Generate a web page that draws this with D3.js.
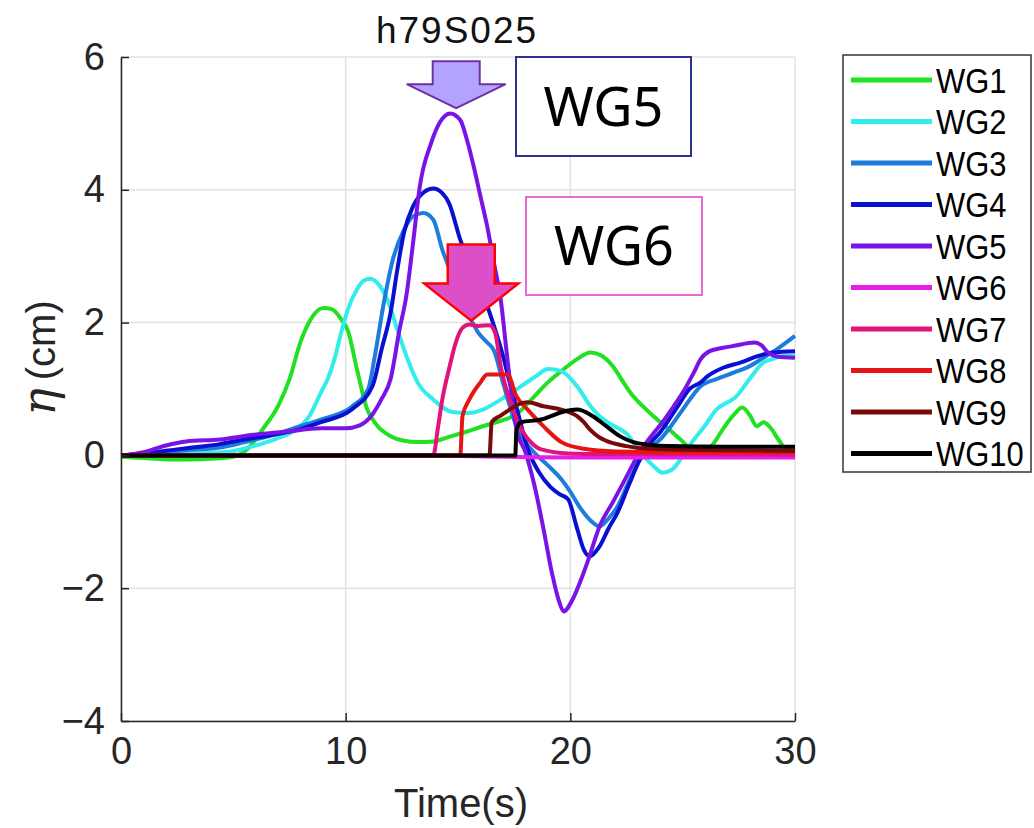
<!DOCTYPE html>
<html>
<head>
<meta charset="utf-8">
<script src="https://cdn.jsdelivr.net/npm/d3@7"></script>
<style>
  body { margin: 0; background: #fff; }
  .tick text { font-family: "Liberation Sans Narrow", "Liberation Sans", sans-serif; font-size: 38px; fill: #262626; }
  .legend text { font-family: "Liberation Sans Narrow", "Liberation Sans", sans-serif; font-size: 36px; fill: #000; }
</style>
</head>
<body>
<div id="chart"></div>
<script>
// wave gauge records, [time (s), eta (cm)]
var wg1 = [[0,-0.02],[1,-0.04],[2,-0.06],[3,-0.06],[4,-0.05],[5.0,-0.02],[5.5,0.06],[5.9,0.2],[6.3,0.39],[7.0,0.75],[7.5,1.15],[8.0,1.72],[8.5,2.08],[9.0,2.22],[9.4,2.2],[9.8,2.05],[10.1,1.88],[10.5,1.3],[10.95,0.7],[11.4,0.45],[12.0,0.29],[12.6,0.22],[13.2,0.2],[13.9,0.21],[14.6,0.28],[15.4,0.36],[16.2,0.45],[16.9,0.52],[17.6,0.62],[18.4,0.89],[19.0,1.1],[19.6,1.27],[20.3,1.45],[20.9,1.55],[21.4,1.5],[21.9,1.34],[22.4,1.08],[22.8,0.89],[23.2,0.75],[23.7,0.59],[24.3,0.42],[24.9,0.24],[25.4,0.1],[25.9,0.08],[26.3,0.15],[26.8,0.4],[27.3,0.62],[27.65,0.72],[28.0,0.6],[28.3,0.44],[28.6,0.5],[28.9,0.42],[29.3,0.22],[29.6,0.1],[30,0.07]];
var wg2 = [[0,0],[1,0.01],[2,0.02],[3,0.03],[4,0.04],[4.9,0.06],[5.9,0.14],[6.9,0.25],[7.8,0.39],[8.4,0.6],[8.9,0.95],[9.2,1.15],[9.5,1.45],[9.8,1.85],[10.1,2.2],[10.5,2.5],[10.8,2.63],[11.1,2.66],[11.4,2.6],[11.85,2.35],[12.3,1.9],[12.7,1.5],[13.2,1.1],[13.9,0.84],[14.8,0.65],[15.5,0.64],[16.1,0.69],[16.9,0.84],[17.8,1.04],[18.5,1.2],[19.0,1.3],[19.6,1.27],[20.3,1.04],[20.9,0.74],[21.3,0.59],[21.9,0.45],[22.5,0.33],[23.0,0.1],[23.7,-0.16],[24.1,-0.26],[24.5,-0.22],[24.8,-0.11],[25.1,0.05],[25.5,0.24],[26.0,0.45],[26.5,0.69],[27.0,0.8],[27.3,0.86],[28.0,1.16],[28.6,1.4],[29.0,1.45],[29.5,1.5],[30,1.5]];
var wg3 = [[0,0],[1,0.02],[2,0.05],[3,0.08],[4.4,0.12],[5.5,0.2],[6.6,0.29],[7.8,0.42],[8.9,0.54],[10.3,0.74],[11.0,1.0],[11.3,1.5],[11.7,2.3],[12.1,2.95],[12.6,3.4],[13.0,3.6],[13.45,3.65],[13.9,3.55],[14.3,3.1],[14.7,2.75],[15.1,2.45],[15.5,2.1],[15.9,1.85],[16.3,1.7],[16.6,1.58],[17.0,1.1],[17.3,0.75],[17.6,0.44],[18.0,0.2],[18.4,0.04],[19.0,-0.15],[19.6,-0.36],[20.0,-0.55],[20.4,-0.77],[20.9,-0.98],[21.3,-1.07],[21.7,-0.95],[22.1,-0.77],[22.6,-0.4],[23.1,-0.06],[23.5,0.1],[24.0,0.24],[24.5,0.45],[25.0,0.69],[25.4,0.88],[25.8,1.04],[26.5,1.15],[27.3,1.25],[27.9,1.33],[28.5,1.45],[29.2,1.6],[30,1.8]];
var wg4 = [[0,0],[1,0.03],[2,0.07],[3,0.11],[4.4,0.17],[5.5,0.24],[6.6,0.3],[7.8,0.38],[8.9,0.5],[10.3,0.7],[11.2,1.05],[11.6,1.6],[12.0,2.15],[12.3,2.8],[12.6,3.36],[13.0,3.75],[13.5,3.97],[13.9,4.02],[14.3,3.95],[14.6,3.8],[15.1,3.25],[15.5,2.9],[15.9,2.55],[16.3,2.25],[16.6,1.95],[17.0,1.5],[17.3,1.1],[17.7,0.6],[18.1,0.1],[18.6,-0.25],[19.1,-0.47],[19.5,-0.58],[19.9,-0.66],[20.3,-1.1],[20.6,-1.42],[20.85,-1.52],[21.3,-1.37],[21.7,-1.1],[22.1,-0.86],[22.6,-0.45],[23.1,-0.06],[23.6,0.2],[24.0,0.35],[24.8,0.75],[25.3,1.0],[25.8,1.1],[26.1,1.19],[26.8,1.32],[27.6,1.4],[28.3,1.49],[29.0,1.55],[30,1.57]];
var wg5 = [[0,0],[1,0.05],[2,0.15],[2.9,0.21],[4.4,0.24],[5.9,0.31],[7.4,0.36],[8.9,0.41],[10.0,0.41],[10.6,0.45],[11.2,0.62],[11.6,0.85],[12.0,1.15],[12.4,1.9],[12.7,2.4],[13.0,3.2],[13.3,4.05],[13.8,4.7],[14.2,5.02],[14.65,5.15],[15.1,5.05],[15.4,4.75],[15.7,4.35],[16.0,3.9],[16.3,3.45],[16.6,2.9],[16.9,2.35],[17.2,1.45],[17.6,0.4],[18.0,0.05],[18.4,-0.45],[18.8,-1.1],[19.2,-1.8],[19.5,-2.2],[19.7,-2.35],[20.1,-2.17],[20.5,-1.85],[20.8,-1.57],[21.3,-1.07],[21.9,-0.7],[22.5,-0.32],[23.0,0.0],[23.6,0.29],[24.1,0.5],[24.6,0.74],[25.1,1.0],[25.5,1.25],[25.8,1.45],[26.2,1.57],[26.8,1.62],[27.3,1.65],[28.2,1.7],[28.5,1.66],[28.8,1.55],[29.2,1.49],[30,1.47]];
var wg6 = [[0,0],[5,-0.01],[10,0],[15,-0.01],[20,-0.03],[25,-0.03],[30,-0.03]];
var wg7 = [[0,0],[5,0],[10,0],[13.9,0],[14.1,0.4],[14.3,0.84],[14.6,1.3],[14.9,1.7],[15.2,1.92],[15.5,1.97],[15.9,1.95],[16.4,1.96],[16.65,1.85],[16.9,1.34],[17.3,0.84],[17.9,0.35],[18.3,0.18],[18.7,0.09],[19.9,0.03],[22,0.02],[30,0.01]];
var wg8 = [[0,0],[5,0],[10,0],[15.1,0],[15.2,0.59],[15.5,0.84],[16.0,1.1],[16.3,1.22],[17.2,1.22],[17.6,0.89],[18.1,0.69],[18.8,0.44],[19.6,0.2],[20.6,0.1],[22,0.06],[25,0.05],[30,0.05]];
var wg9 = [[0,0],[5,0],[10,0],[16.4,0],[16.5,0.5],[16.9,0.6],[17.3,0.69],[17.7,0.77],[18.1,0.8],[18.8,0.74],[19.6,0.69],[20.3,0.59],[20.6,0.5],[20.9,0.38],[21.3,0.27],[21.6,0.22],[22.5,0.14],[23.5,0.1],[26,0.08],[30,0.07]];
var wg10 = [[0,0],[5,0],[10,0],[17.55,0],[17.6,0.39],[17.8,0.5],[18.7,0.54],[19.2,0.6],[19.6,0.65],[20.3,0.69],[21.0,0.59],[21.6,0.44],[22.2,0.29],[22.8,0.2],[23.5,0.16],[24.3,0.14],[27,0.13],[30,0.13]];

var names = ["WG1","WG2","WG3","WG4","WG5","WG6","WG7","WG8","WG9","WG10"];
var colors = ["#22e022","#33ecec","#1e7ddc","#0a10d0","#7a14e6","#e61ee6","#e0147a","#e61414","#7a0a0a","#000000"];
var series = [wg1, wg2, wg3, wg4, wg5, wg6, wg7, wg8, wg9, wg10];

var xTicks = [0, 10, 20, 30];
var yTicks = [-4, -2, 0, 2, 4, 6];

var width = 1034, height = 828;
var margin = {top: 57, left: 121, right: 239, bottom: 107};

var svg = d3.select("#chart").append("svg")
    .attr("width", width)
    .attr("height", height);

var x = d3.scaleLinear().domain([0, 30]).range([margin.left, width - margin.right]);
var y = d3.scaleLinear().domain([-4, 6]).range([height - margin.bottom, margin.top]);

// grid
svg.append("g").selectAll("line.gx")
    .data(xTicks).enter().append("line")
    .attr("x1", d => x(d)).attr("x2", d => x(d))
    .attr("y1", y(-4)).attr("y2", y(6))
    .attr("stroke", "#e2e2e2").attr("stroke-width", 1.5);
svg.append("g").selectAll("line.gy")
    .data(yTicks).enter().append("line")
    .attr("x1", x(0)).attr("x2", x(30))
    .attr("y1", d => y(d)).attr("y2", d => y(d))
    .attr("stroke", "#e2e2e2").attr("stroke-width", 1.5);

// lines
var line = d3.line()
    .x(d => x(d[0]))
    .y(d => y(d[1]))
    .curve(d3.curveMonotoneX);

svg.append("g").selectAll("path.wg")
    .data(series).enter().append("path")
    .attr("class", "wg")
    .attr("d", line)
    .attr("fill", "none")
    .attr("stroke", (d, i) => colors[i])
    .attr("stroke-width", 4)
    .attr("stroke-linejoin", "round");

// axes
var fmt = d => d < 0 ? "\u2212" + Math.abs(d) : d;
var xAxis = svg.append("g")
    .attr("transform", "translate(0," + y(-4) + ")")
    .call(d3.axisBottom(x).tickValues(xTicks).tickFormat(fmt).tickSizeInner(-8).tickSizeOuter(0).tickPadding(16));
var yAxis = svg.append("g")
    .attr("transform", "translate(" + x(0) + ",0)")
    .call(d3.axisLeft(y).tickValues(yTicks).tickFormat(fmt).tickSizeInner(-8).tickSizeOuter(0).tickPadding(16));
[xAxis, yAxis].forEach(function(a){
    a.select(".domain").attr("stroke", "#262626").attr("stroke-width", 1.5);
    a.selectAll(".tick line").attr("stroke", "#262626").attr("stroke-width", 1.5);
});

// axis labels
svg.append("text")
    .attr("x", 461).attr("y", 817)
    .attr("text-anchor", "middle")
    .style("font-family", "'Liberation Sans Narrow', 'Liberation Sans', sans-serif")
    .style("font-size", "40px").attr("fill", "#262626")
    .text("Time(s)");

var yl = svg.append("text")
    .attr("transform", "translate(55,358) rotate(-90)")
    .attr("text-anchor", "middle")
    .attr("fill", "#262626");
yl.append("tspan")
    .style("font-family", "'DejaVu Serif', serif").style("font-style", "italic").style("font-size", "46px")
    .text("\u03b7");
yl.append("tspan")
    .style("font-family", "'Liberation Sans Narrow', 'Liberation Sans', sans-serif").style("font-size", "40px")
    .attr("dx", 8)
    .text("(cm)");

// title
svg.append("text")
    .attr("x", 457).attr("y", 43)
    .attr("text-anchor", "middle")
    .style("font-family", "'Liberation Sans', sans-serif").style("font-size", "37px")
    .style("letter-spacing", "2px").attr("fill", "#111")
    .text("h79S025");

// legend
var legend = svg.append("g").attr("class", "legend");
legend.append("rect")
    .attr("x", 843).attr("y", 55).attr("width", 188).attr("height", 417)
    .attr("fill", "#fff").attr("stroke", "#333").attr("stroke-width", 1.5);
var items = legend.selectAll("g.item").data(names).enter().append("g")
    .attr("transform", (d, i) => "translate(0," + (80 + i * 41.5) + ")");
items.append("line")
    .attr("x1", 851).attr("x2", 932).attr("y1", 0).attr("y2", 0)
    .attr("stroke", (d, i) => colors[i]).attr("stroke-width", 5);
items.append("text")
    .attr("transform", "translate(936,0) scale(0.86,1)")
    .attr("dy", "0.36em")
    .text(d => d);

// annotations: arrows pointing at WG5 and WG6 peaks, tip given in data units
function arrow(tip, shaftHalf, wingHalf, shaftH, headH, fill, stroke, sw) {
    var tx = x(tip[0]), ty = y(tip[1]);
    var pts = [
        [tx - shaftHalf, ty - headH - shaftH], [tx + shaftHalf, ty - headH - shaftH],
        [tx + shaftHalf, ty - headH], [tx + wingHalf, ty - headH],
        [tx, ty],
        [tx - wingHalf, ty - headH], [tx - shaftHalf, ty - headH]
    ];
    svg.append("path")
        .attr("d", "M" + pts.map(p => p.join(",")).join("L") + "Z")
        .attr("fill", fill).attr("stroke", stroke).attr("stroke-width", sw)
        .attr("stroke-linejoin", "miter");
}
function label(txt, x0, y0, w, h, stroke) {
    svg.append("rect")
        .attr("x", x0).attr("y", y0).attr("width", w).attr("height", h)
        .attr("fill", "#fff").attr("stroke", stroke).attr("stroke-width", 2);
    svg.append("text")
        .attr("x", x0 + w / 2).attr("y", y0 + h / 2).attr("dy", "0.36em")
        .attr("text-anchor", "middle")
        .style("font-family", "'Noto Sans', 'Open Sans', sans-serif").style("font-size", "54px")
        .attr("fill", "#000")
        .text(txt);
}

arrow([14.92, 5.23], 23.5, 49.5, 23, 24, "#b3a3ff", "#7030a0", 2);
arrow([15.59, 2.03], 23.5, 47, 39, 37, "#dd4fc6", "#ff0000", 2.5);
label("WG5", 516, 57, 175, 99, "#2e3192");
label("WG6", 526, 197, 176, 98, "#e46ad6");
</script>
</body>
</html>
